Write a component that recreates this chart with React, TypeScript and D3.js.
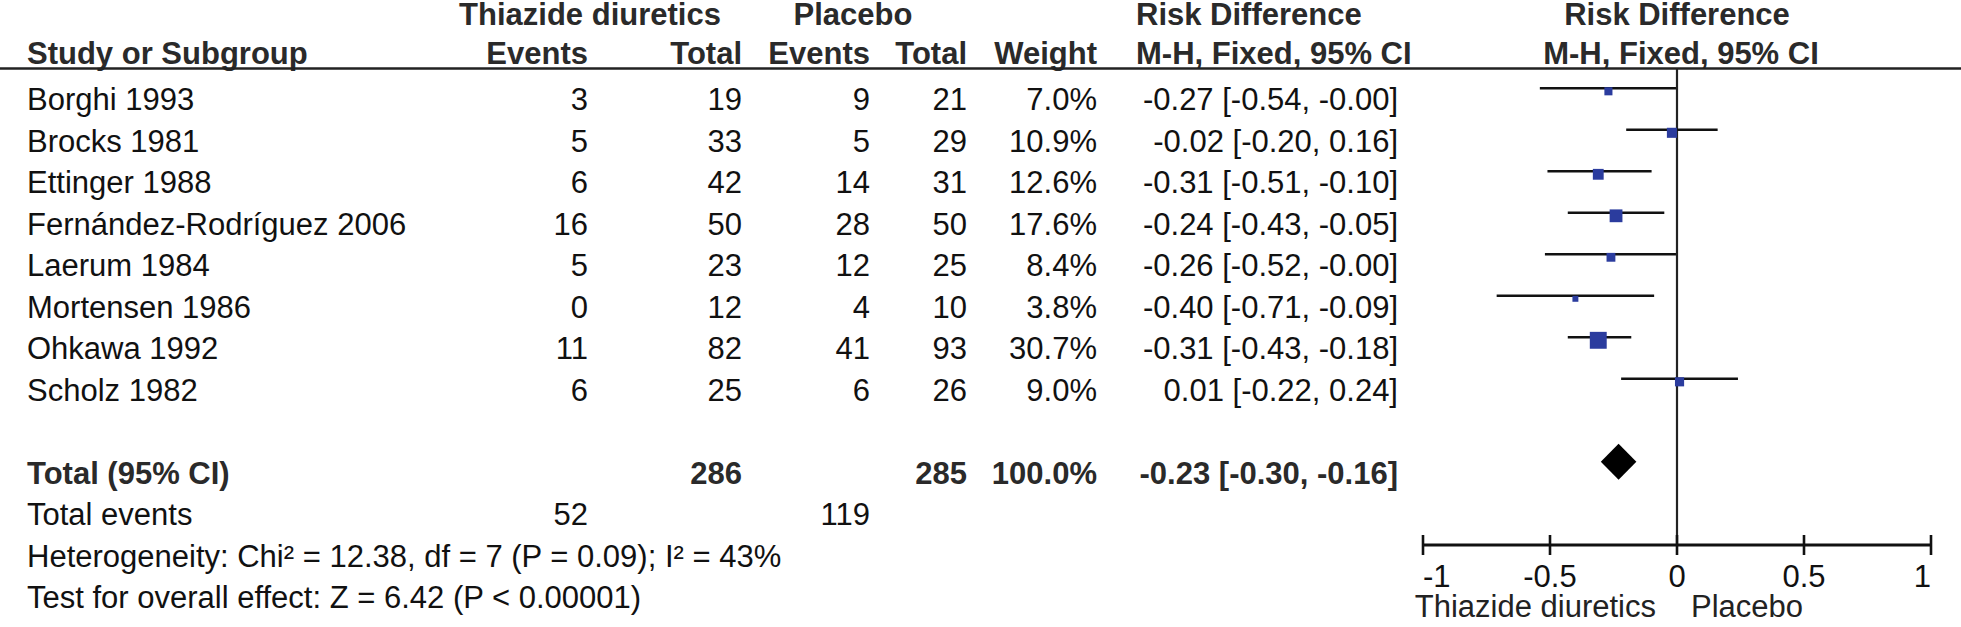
import React from "react";
import * as d3 from "d3";

const studies = [
  "Borghi 1993",
  "Brocks 1981",
  "Ettinger 1988",
  "Fernández-Rodríguez 2006",
  "Laerum 1984",
  "Mortensen 1986",
  "Ohkawa 1992",
  "Scholz 1982",
];
const eventsT = [3, 5, 6, 16, 5, 0, 11, 6];
const totalT = [19, 33, 42, 50, 23, 12, 82, 25];
const eventsP = [9, 5, 14, 28, 12, 4, 41, 6];
const totalP = [21, 29, 31, 50, 25, 10, 93, 26];
const weights = [7.0, 10.9, 12.6, 17.6, 8.4, 3.8, 30.7, 9.0];
const rd = [-0.27, -0.02, -0.31, -0.24, -0.26, -0.4, -0.31, 0.01];
const ciLow = [-0.54, -0.2, -0.51, -0.43, -0.52, -0.71, -0.43, -0.22];
const ciHigh = [-0.004, 0.16, -0.1, -0.05, -0.004, -0.09, -0.18, 0.24];

const pooled = { rd: -0.23, lo: -0.3, hi: -0.16 };
const totalsT = { total: 286, events: 52 };
const totalsP = { total: 285, events: 119 };
const totalWeight = 100.0;

const footnotes = [
  "Heterogeneity: Chi² = 12.38, df = 7 (P = 0.09); I² = 43%",
  "Test for overall effect: Z = 6.42 (P < 0.00001)",
];
const axisTicks = [-1, -0.5, 0, 0.5, 1];
const favourLeft = "Thiazide diuretics";
const favourRight = "Placebo";

const FONT = '"Liberation Sans", Arial, Helvetica, sans-serif';
const FS = 31;
const W = 1961;
const H = 627;

export default function App() {
  const x = d3.scaleLinear().domain([-1, 1]).range([1423, 1931]);
  const row = d3.scaleLinear().domain([0, 1]).range([88.3, 129.8]);
  const side = d3.scaleSqrt().domain([0, 100]).range([0, 30.5]);
  const fmt = (v: number) => v.toFixed(2);
  const ciText = (m: number, l: number, h: number) => `${fmt(m)} [${fmt(l)}, ${fmt(h)}]`;

  const col = {
    study: 27,
    evT: 588,
    totT: 742,
    evP: 870,
    totP: 967,
    weight: 1097,
    ci: 1398,
  };
  const textDy = 22;
  const headColor = "#2a2a2a";
  const bodyColor = "#111";
  const x0 = x(0);
  const axisY = 545;
  const h1 = 25;
  const h2 = 64;
  const headLine = 68.5;

  const rt = (xx: number, y: number, s: string | number, bold = false, color = bodyColor) => (
    <text x={xx} y={y} textAnchor="end" fontWeight={bold ? "bold" : "normal"} fill={color}>
      {s}
    </text>
  );

  const totalIdx = 9;
  const yTotal = row(totalIdx);

  return (
    <svg
      width={W}
      height={H}
      style={{ position: "absolute", left: 0, top: 0, background: "#fff" }}
      fontFamily={FONT}
      fontSize={FS}
    >
      <rect x={0} y={0} width={W} height={H} fill="#fff" />
      {/* header row 1 */}
      <text x={590} y={h1} textAnchor="middle" fontWeight="bold" fill={headColor}>Thiazide diuretics</text>
      <text x={853} y={h1} textAnchor="middle" fontWeight="bold" fill={headColor}>Placebo</text>
      <text x={1136} y={h1} fontWeight="bold" fill={headColor}>Risk Difference</text>
      <text x={x0} y={h1} textAnchor="middle" fontWeight="bold" fill={headColor}>Risk Difference</text>
      {/* header row 2 */}
      <text x={col.study} y={h2} fontWeight="bold" fill={headColor}>Study or Subgroup</text>
      {rt(col.evT, h2, "Events", true, headColor)}
      {rt(col.totT, h2, "Total", true, headColor)}
      {rt(col.evP, h2, "Events", true, headColor)}
      {rt(col.totP, h2, "Total", true, headColor)}
      {rt(col.weight, h2, "Weight", true, headColor)}
      <text x={1136} y={h2} fontWeight="bold" fill={headColor}>M-H, Fixed, 95% CI</text>
      <text x={x0 + 4} y={h2} textAnchor="middle" fontWeight="bold" fill={headColor}>M-H, Fixed, 95% CI</text>
      <line x1={0} x2={W} y1={headLine} y2={headLine} stroke="#222" strokeWidth={2.6} />

      {/* zero line */}
      <line x1={x0} x2={x0} y1={headLine} y2={axisY} stroke="#222" strokeWidth={2.2} />

      {/* study rows */}
      {studies.map((s, i) => {
        const y = row(i);
        const ty = y + textDy;
        const sz = side(weights[i]);
        return (
          <g key={s}>
            <text x={col.study} y={ty} fill={bodyColor}>{s}</text>
            {rt(col.evT, ty, eventsT[i])}
            {rt(col.totT, ty, totalT[i])}
            {rt(col.evP, ty, eventsP[i])}
            {rt(col.totP, ty, totalP[i])}
            {rt(col.weight, ty, `${weights[i].toFixed(1)}%`)}
            {rt(col.ci, ty, ciText(rd[i], ciLow[i], ciHigh[i]))}
            <line x1={x(ciLow[i])} x2={x(ciHigh[i])} y1={y} y2={y} stroke="#111" strokeWidth={2.6} />
            <rect x={x(rd[i]) - sz / 2} y={y + 3 - sz / 2} width={sz} height={sz} fill="#2b3c9e" />
          </g>
        );
      })}

      {/* total row */}
      <text x={col.study} y={yTotal + textDy} fontWeight="bold" fill={headColor}>Total (95% CI)</text>
      {rt(col.totT, yTotal + textDy, totalsT.total, true, headColor)}
      {rt(col.totP, yTotal + textDy, totalsP.total, true, headColor)}
      {rt(col.weight, yTotal + textDy, `${totalWeight.toFixed(1)}%`, true, headColor)}
      {rt(col.ci, yTotal + textDy, ciText(pooled.rd, pooled.lo, pooled.hi), true, headColor)}
      <path
        d={`M${x(pooled.lo)},${yTotal} L${x(pooled.rd)},${yTotal - 18} L${x(pooled.hi)},${yTotal} L${x(pooled.rd)},${yTotal + 18} Z`}
        fill="#000"
      />

      {/* totals events */}
      <text x={col.study} y={row(10) + textDy} fill={bodyColor}>Total events</text>
      {rt(col.evT, row(10) + textDy, totalsT.events)}
      {rt(col.evP, row(10) + textDy, totalsP.events)}

      {footnotes.map((f, k) => (
        <text key={f} x={col.study} y={row(11 + k) + textDy} fill={bodyColor}>{f}</text>
      ))}

      {/* axis */}
      <line x1={x(-1)} x2={x(1)} y1={axisY} y2={axisY} stroke="#111" strokeWidth={2.8} />
      {axisTicks.map((t, k) => (
        <g key={t}>
          <line x1={x(t)} x2={x(t)} y1={axisY - 10} y2={axisY + 10} stroke="#111" strokeWidth={2.6} />
          <text
            x={x(t)}
            y={587}
            textAnchor={k === 0 ? "start" : k === axisTicks.length - 1 ? "end" : "middle"}
            fill={bodyColor}
          >
            {String(t)}
          </text>
        </g>
      ))}
      <text x={x0 - 21} y={617} textAnchor="end" fill="#222">{favourLeft}</text>
      <text x={x0 + 14} y={617} fill="#222">{favourRight}</text>
    </svg>
  );
}
